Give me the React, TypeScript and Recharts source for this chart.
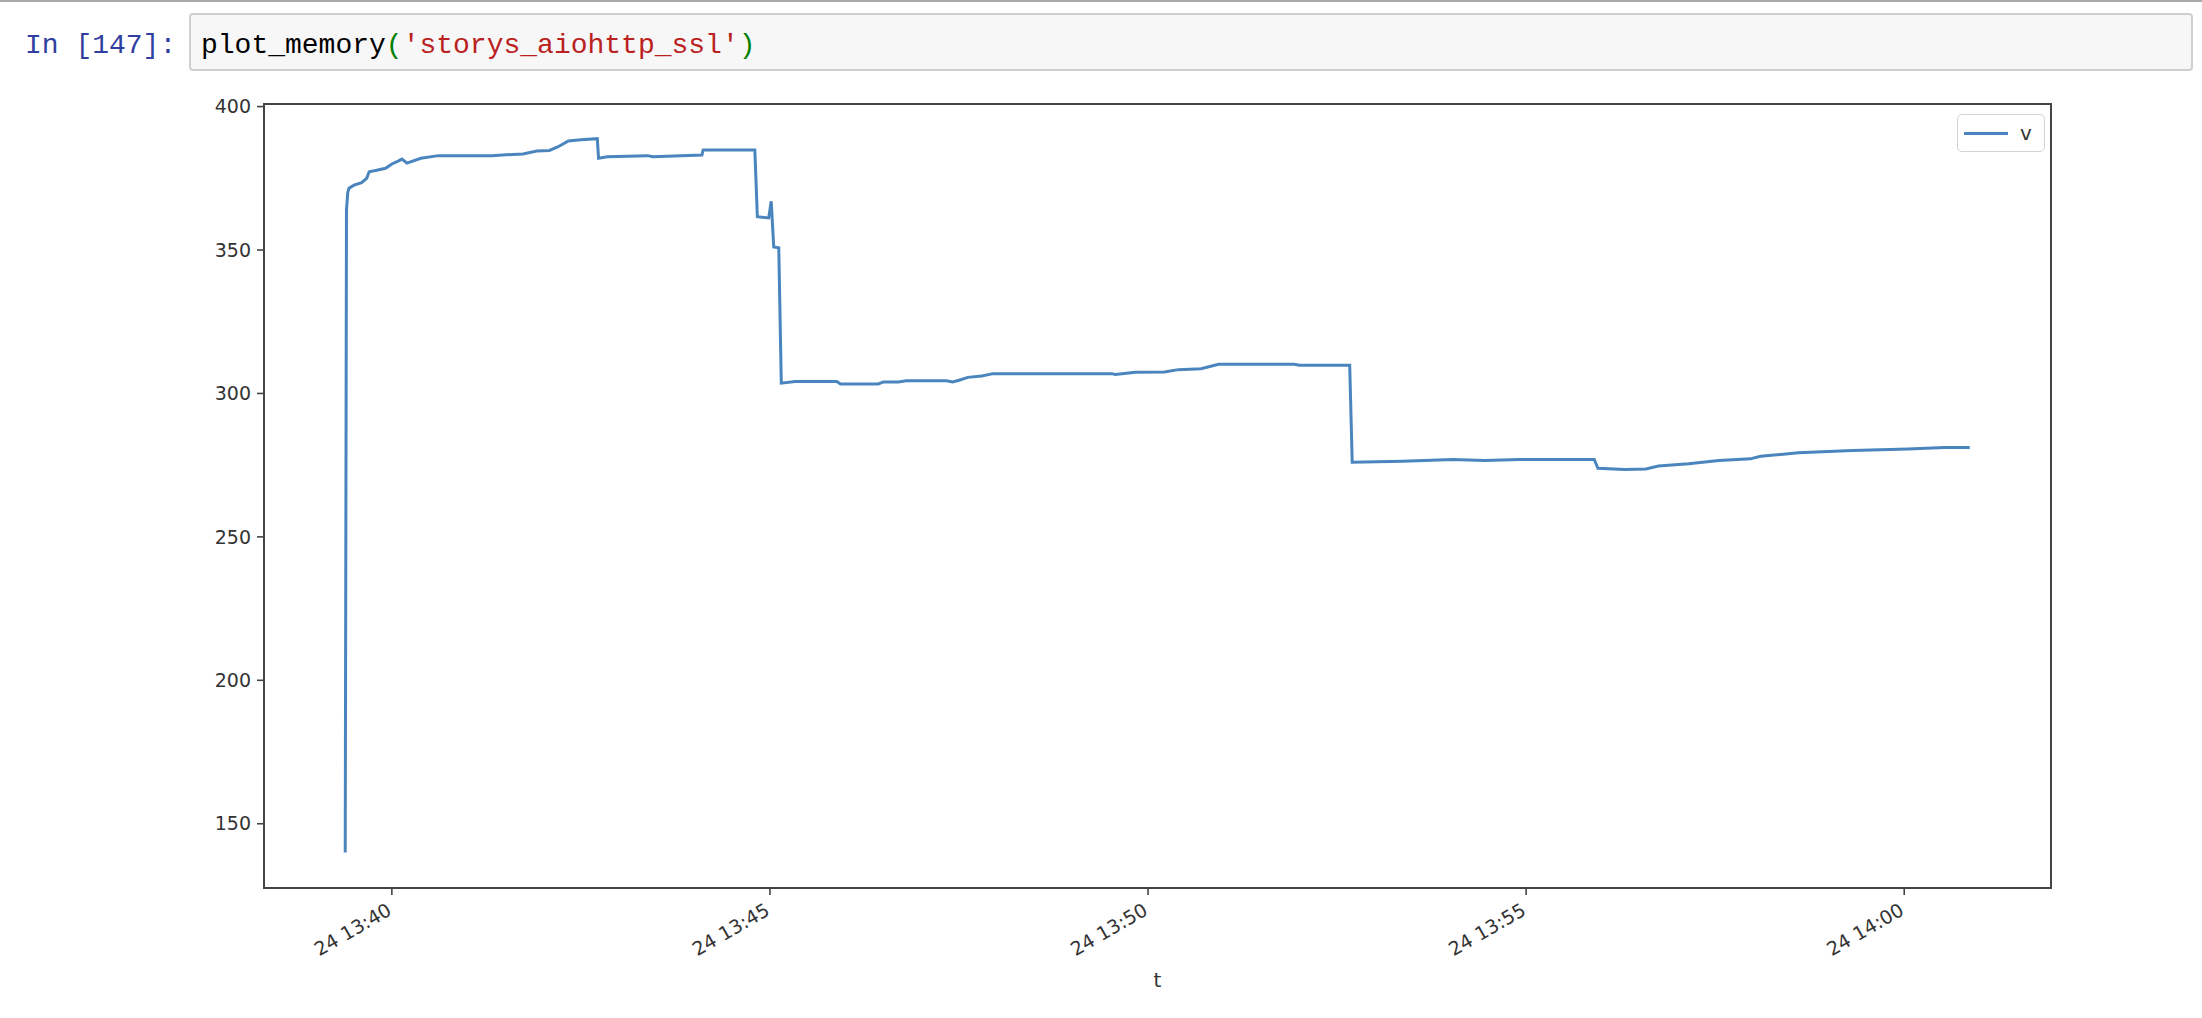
import {
  LineChart,
  Line,
  XAxis,
  YAxis,
  Legend,
  ReferenceArea,
} from "recharts"

// memory samples (clock time on the 24th, MB)
const TIMES = [
  "13:39:23", "13:39:24", "13:39:25", "13:39:26", "13:39:30", "13:39:36",
  "13:39:40", "13:39:42", "13:39:48", "13:39:55", "13:40:00", "13:40:05",
  "13:40:08", "13:40:12", "13:40:23", "13:40:37", "13:41:19", "13:41:44",
  "13:41:55", "13:42:05", "13:42:12", "13:42:20", "13:42:30", "13:42:43",
  "13:42:44", "13:42:51", "13:43:23", "13:43:27", "13:44:06", "13:44:07",
  "13:44:48", "13:44:50", "13:44:59", "13:45:01", "13:45:03", "13:45:07",
  "13:45:09", "13:45:20", "13:45:53", "13:45:56", "13:46:26", "13:46:30",
  "13:46:42", "13:46:48", "13:47:20", "13:47:25", "13:47:30", "13:47:37",
  "13:47:48", "13:47:57", "13:49:31", "13:49:34", "13:49:50", "13:50:13",
  "13:50:24", "13:50:42", "13:50:56", "13:51:56", "13:52:00", "13:52:40",
  "13:52:42", "13:53:22", "13:54:02", "13:54:27", "13:54:55", "13:55:54",
  "13:55:57", "13:56:18", "13:56:35", "13:56:45", "13:57:09", "13:57:33",
  "13:57:58", "13:58:06", "13:58:36", "13:59:19", "14:00:03", "14:00:32",
  "14:00:52",
]
const MEM = [
  140, 364, 370, 371.5, 372.6, 373.5,
  375, 377.3, 377.8, 378.5, 380, 381,
  381.7, 380.3, 382, 382.9, 382.9, 383.5,
  384.5, 384.7, 386, 388, 388.4, 388.8,
  382, 382.5, 382.9, 382.5, 383.1, 384.9,
  384.9, 361.6, 361.2, 367, 351.1, 350.8,
  303.6, 304.2, 304.2, 303.3, 303.3, 304,
  304, 304.4, 304.4, 304, 304.6, 305.6,
  306.1, 306.9, 306.9, 306.6, 307.4, 307.5,
  308.3, 308.6, 310.2, 310.2, 309.8, 309.8,
  276, 276.4, 277, 276.6, 277, 277,
  273.9, 273.5, 273.7, 274.7, 275.5, 276.6,
  277.2, 278.1, 279.3, 280.1, 280.6, 281.2,
  281.2,
]

const TICK_TIMES = ["13:40:00", "13:45:00", "13:50:00", "13:55:00", "14:00:00"]
const TICK_LABELS = ["24 13:40", "24 13:45", "24 13:50", "24 13:55", "24 14:00"]
const Y_TICKS = [150, 200, 250, 300, 350, 400]

const toSec = (s: string) => {
  const [h, m, sec] = s.split(":").map(Number)
  return h * 3600 + m * 60 + sec
}

const data = TIMES.map((t, i) => ({ t: toSec(t), v: MEM[i] }))
const tickSecs = TICK_TIMES.map(toSec)
const labelFor: Record<number, string> = {}
tickSecs.forEach((s, i) => (labelFor[s] = TICK_LABELS[i]))

// matplotlib-style 5% margins
const t0 = data[0].t
const t1 = data[data.length - 1].t
const pad = (t1 - t0) * 0.05
const X_DOMAIN: [number, number] = [t0 - pad, t1 + pad]
const Y_DOMAIN: [number, number] = [127.6, 400.9]

const LINE = "#4a85be"
const AXIS = "#444"
const TXT = "#333"
const FONT = "'DejaVu Sans', sans-serif"
const MONO = "'Liberation Mono', 'DejaVu Sans Mono', monospace"

function DateTick(props: any) {
  const { x, y, payload } = props
  return (
    <text
      x={x + 1}
      y={y + 17}
      transform={`rotate(-30, ${x + 1}, ${y + 17})`}
      textAnchor="end"
      fontSize={19}
      fontFamily={FONT}
      fill={TXT}
    >
      {labelFor[payload.value]}
    </text>
  )
}

function LegendBox() {
  return (
    <div
      style={{
        display: "flex",
        alignItems: "center",
        gap: 12,
        padding: "0 12px 0 6px",
        height: 36,
        border: "1.5px solid #d4d4d4",
        borderRadius: 5,
        background: "rgba(255,255,255,0.8)",
        fontFamily: FONT,
        fontSize: 20,
        color: TXT,
      }}
    >
      <span style={{ width: 44, height: 3, background: LINE, display: "inline-block" }} />
      <span>v</span>
    </div>
  )
}

export default function App() {
  return (
    <div
      style={{
        position: "absolute",
        left: 0,
        top: 0,
        width: 2202,
        height: 1018,
        background: "#fff",
        overflow: "hidden",
      }}
    >
      <div style={{ position: "absolute", left: 0, top: 0, width: 2202, height: 2, background: "#aaa" }} />
      <div
        style={{
          position: "absolute",
          left: 25,
          top: 28,
          fontFamily: MONO,
          fontSize: 28,
          lineHeight: "36px",
          color: "#303F9F",
        }}
      >
        In [147]:
      </div>
      <div
        style={{
          position: "absolute",
          left: 189,
          top: 13,
          width: 2004,
          height: 58,
          boxSizing: "border-box",
          background: "#f7f7f7",
          border: "2px solid #cfcfcf",
          borderRadius: 4,
          fontFamily: MONO,
          fontSize: 28,
          lineHeight: "36px",
          padding: "13px 0 0 10px",
          color: "#000",
        }}
      >
        plot_memory<span style={{ color: "#008000" }}>(</span>
        <span style={{ color: "#BA2121" }}>'storys_aiohttp_ssl'</span>
        <span style={{ color: "#008000" }}>)</span>
      </div>

      <div style={{ position: "absolute", left: 0, top: 0 }}>
        <LineChart
          width={2202}
          height={1018}
          data={data}
          margin={{ top: 104, right: 151, bottom: 30, left: 184 }}
        >
          <XAxis
            dataKey="t"
            type="number"
            domain={X_DOMAIN}
            ticks={tickSecs}
            allowDataOverflow
            height={100}
            axisLine={false}
            tickLine={{ stroke: AXIS, strokeWidth: 1.6 }}
            tickSize={7}
            tick={<DateTick />}
            interval={0}
            label={{
              value: "t",
              position: "insideBottom",
              offset: 1,
              fontSize: 20,
              fontFamily: FONT,
              fill: TXT,
            }}
          />
          <YAxis
            type="number"
            domain={Y_DOMAIN}
            ticks={Y_TICKS}
            allowDataOverflow
            width={80}
            axisLine={false}
            tickLine={{ stroke: AXIS, strokeWidth: 1.6 }}
            tickSize={7}
            tickMargin={6}
            tick={{ fontSize: 19, fontFamily: FONT, fill: TXT }}
            interval={0}
          />
          <ReferenceArea
            x1={X_DOMAIN[0]}
            x2={X_DOMAIN[1]}
            y1={Y_DOMAIN[0]}
            y2={Y_DOMAIN[1]}
            fill="none"
            stroke={AXIS}
            strokeWidth={2}
            ifOverflow="visible"
          />
          <Line
            type="linear"
            dataKey="v"
            name="v"
            stroke={LINE}
            strokeWidth={3}
            dot={false}
            isAnimationActive={false}
          />
          <Legend
            layout="horizontal"
            align="center"
            verticalAlign="middle"
            wrapperStyle={{ left: 1957, top: 114, width: "auto" }}
            content={<LegendBox />}
          />
        </LineChart>
      </div>
    </div>
  )
}
